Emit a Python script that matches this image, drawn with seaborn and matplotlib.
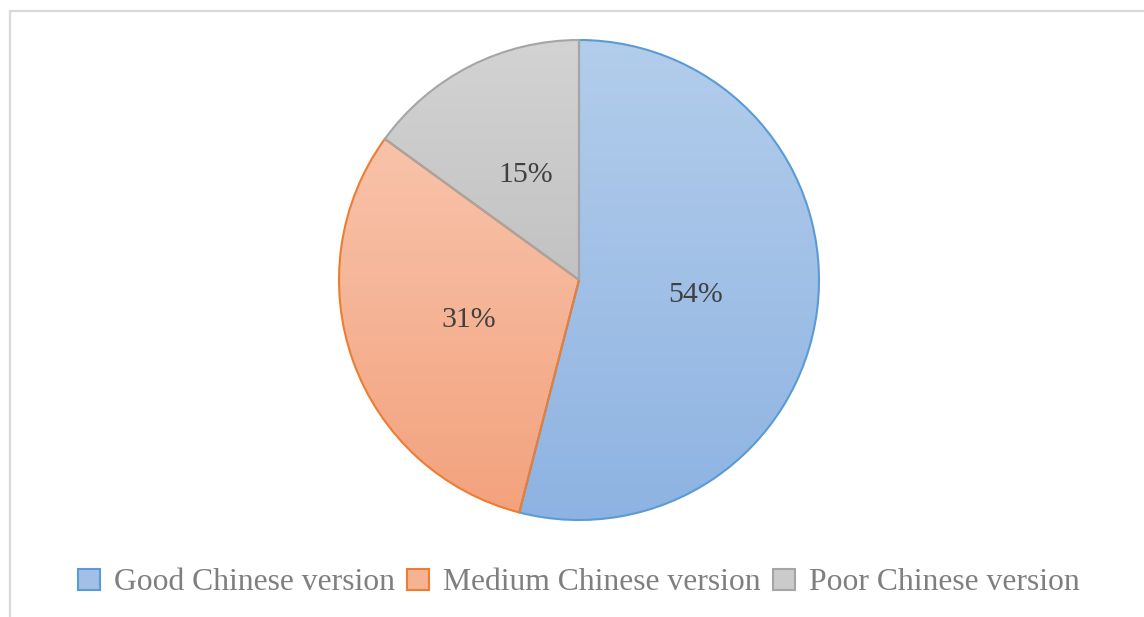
import numpy as np
import matplotlib
matplotlib.use("Agg")
import matplotlib.pyplot as plt
import seaborn as sns
from matplotlib.patches import Patch
from matplotlib.lines import Line2D
from matplotlib.colors import LinearSegmentedColormap

sns.set_theme(style="white")
plt.rcParams['font.family'] = ['Liberation Serif', 'DejaVu Serif']

categories = ["Good Chinese version", "Medium Chinese version", "Poor Chinese version"]
shares = [54, 31, 15]

# light (top) / dark (bottom) gradient stops and outline colour per slice
fill_top = ["#b3cdeb", "#f8c3ab", "#d3d3d3"]
fill_bottom = ["#8eb3e2", "#f3a27d", "#c2c2c2"]
edge_colors = ["#5b9bd5", "#ed7d31", "#a5a5a5"]
fill_mid = ["#a2c0e7", "#f6b394", "#cbcbcb"]

W, H = 1144, 617
fig = plt.figure(figsize=(W / 100, H / 100), dpi=100)

# chart area frame
fig.add_artist(Line2D([9.5 / W, 9.5 / W], [0, 1 - 10.5 / H], color="#d9d9d9", lw=1.6))
fig.add_artist(Line2D([9.5 / W, 1], [1 - 10.5 / H, 1 - 10.5 / H], color="#d9d9d9", lw=1.6))

cx, cy, r = 579, 280, 240
pad = 1.05
half = r * pad
ax = fig.add_axes([(cx - half) / W, (H - cy - half) / H, 2 * half / W, 2 * half / H])

wedges, texts, autotexts = ax.pie(
    shares,
    startangle=90,
    counterclock=False,
    autopct=lambda p: f"{p:.0f}%",
    pctdistance=0.49,
    colors=fill_mid,
    wedgeprops=dict(linewidth=1.5),
    textprops=dict(fontsize=21.5, color="#404040"),
)
ax.set_xlim(-pad, pad)
ax.set_ylim(-pad, pad)
ax.set_aspect("equal")
ax.axis("off")

# vertical gradient fill inside each slice
for w, top, bot, ec in zip(wedges, fill_top, fill_bottom, edge_colors):
    w.set_edgecolor(ec)
    w.set_facecolor("none")
    w.set_zorder(3)
    path = w.get_path()
    verts = w.get_transform().transform(path.vertices)
    verts = ax.transData.inverted().transform(verts)
    x0, x1 = verts[:, 0].min(), verts[:, 0].max()
    y0, y1 = verts[:, 1].min(), verts[:, 1].max()
    cmap = LinearSegmentedColormap.from_list("g", [bot, top])
    grad = np.linspace(0, 1, 256).reshape(-1, 1)
    im = ax.imshow(grad, cmap=cmap, extent=(x0, x1, y0, y1), origin="lower",
                   aspect="auto", zorder=2, interpolation="bilinear")
    im.set_clip_path(w)

for t in autotexts:
    t.set_zorder(5)

ax.set_xlim(-pad, pad)
ax.set_ylim(-pad, pad)

handles = [Patch(facecolor=fc, edgecolor=ec, linewidth=1.5) for fc, ec in zip(fill_mid, edge_colors)]
leg = fig.legend(
    handles, categories,
    loc="center", bbox_to_anchor=(579 / W, 1 - 583 / H),
    ncol=3, frameon=False,
    fontsize=22.8,
    handlelength=0.68, handleheight=0.68,
    handletextpad=0.45, columnspacing=0.4,
    labelcolor="#7f7f7f",
)

fig.savefig("out.png", dpi=100)
